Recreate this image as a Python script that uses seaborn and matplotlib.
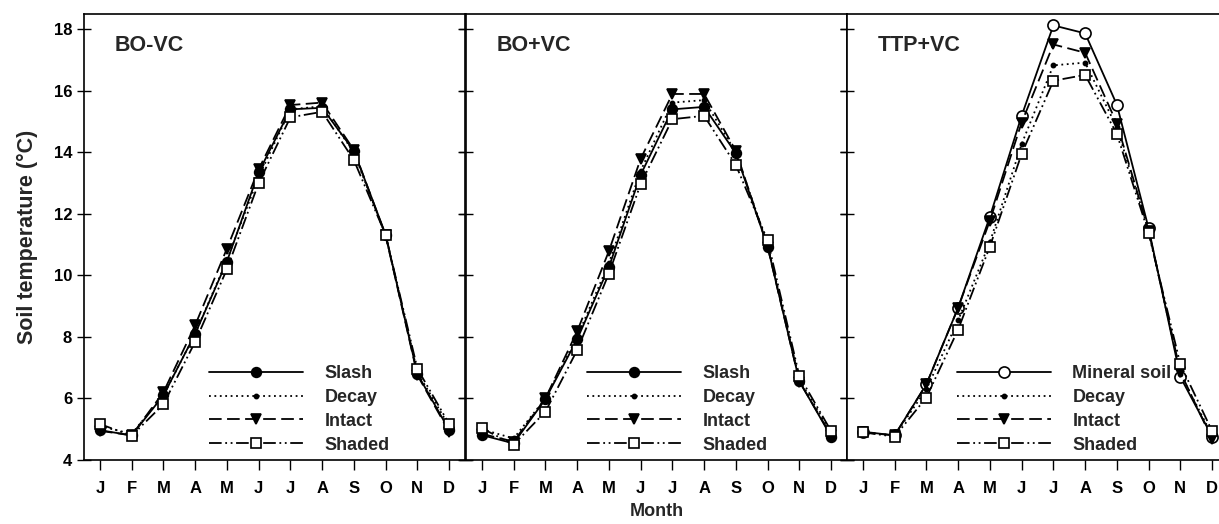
import numpy as np
import pandas as pd
import matplotlib
matplotlib.use("Agg")
import matplotlib.pyplot as plt
import seaborn as sns

months = ["J", "F", "M", "A", "M", "J", "J", "A", "S", "O", "N", "D"]
panels = ["BO-VC", "BO+VC", "TTP+VC"]

# BO-VC
bovc_slash = [4.97, 4.80, 6.10, 8.10, 10.45, 13.35, 15.40, 15.45, 14.05, 11.33, 6.80, 4.97]
bovc_decay = [5.10, 4.85, 6.10, 8.10, 10.50, 13.20, 15.40, 15.50, 14.00, 11.30, 6.85, 5.10]
bovc_intact = [4.95, 4.80, 6.20, 8.38, 10.87, 13.45, 15.54, 15.62, 14.08, 11.30, 6.76, 4.92]
bovc_shaded = [5.17, 4.79, 5.81, 7.84, 10.20, 13.00, 15.14, 15.32, 13.75, 11.32, 6.97, 5.17]

# BO+VC
bopvc_slash = [4.81, 4.54, 5.98, 7.92, 10.27, 13.27, 15.40, 15.48, 13.97, 10.94, 6.56, 4.76]
bopvc_decay = [5.00, 4.70, 6.00, 8.00, 10.40, 13.40, 15.62, 15.70, 14.00, 11.00, 6.60, 4.90]
bopvc_intact = [4.85, 4.60, 6.00, 8.18, 10.79, 13.79, 15.90, 15.90, 14.05, 10.93, 6.55, 4.80]
bopvc_shaded = [5.03, 4.50, 5.57, 7.57, 10.06, 12.97, 15.08, 15.19, 13.59, 11.14, 6.73, 4.94]

# TTP+VC
ttp_mineral = [4.92, 4.80, 6.46, 8.95, 11.91, 15.19, 18.13, 17.87, 15.55, 11.53, 6.70, 4.76]
ttp_decay = [4.90, 4.80, 6.30, 8.54, 11.08, 14.27, 16.83, 16.92, 14.81, 11.46, 6.80, 4.80]
ttp_intact = [4.90, 4.80, 6.46, 8.95, 11.78, 14.97, 17.51, 17.24, 14.94, 11.46, 6.86, 4.67]
ttp_shaded = [4.90, 4.76, 6.03, 8.24, 10.94, 13.95, 16.33, 16.52, 14.60, 11.37, 7.11, 4.94]

series = {
    "BO-VC": [("Slash", bovc_slash), ("Decay", bovc_decay), ("Intact", bovc_intact), ("Shaded", bovc_shaded)],
    "BO+VC": [("Slash", bopvc_slash), ("Decay", bopvc_decay), ("Intact", bopvc_intact), ("Shaded", bopvc_shaded)],
    "TTP+VC": [("Mineral soil", ttp_mineral), ("Decay", ttp_decay), ("Intact", ttp_intact), ("Shaded", ttp_shaded)],
}

styles = {
    "Slash": dict(ls="-", marker="o", mfc="black", ms=7),
    "Mineral soil": dict(ls="-", marker="o", mfc="white", ms=8),
    "Decay": dict(ls=(0, (1, 2)), marker="o", mfc="black", ms=3),
    "Intact": dict(ls=(0, (7, 3)), marker="v", mfc="black", ms=7),
    "Shaded": dict(ls=(0, (7, 2, 1, 2, 1, 2)), marker="s", mfc="white", ms=7),
}

sns.set_theme(style="ticks")
plt.rcParams["font.family"] = ["Liberation Sans", "DejaVu Sans"]
plt.rcParams["font.weight"] = "bold"

fig = plt.figure(figsize=(12.19, 5.24), dpi=100)
W, H = 1219, 524
x0s = [84, 466, 847]
pw = 381
top, bot = 14, 460
legend_x = [0.30, 0.29, 0.26]
axes = []
for i, name in enumerate(panels):
    ax = fig.add_axes([x0s[i] / W, (H - bot) / H, pw / W, (bot - top) / H])
    axes.append(ax)
    x = np.arange(len(months))
    for label, vals in series[name]:
        st = styles[label]
        df = pd.DataFrame({"m": x, "t": vals})
        sns.lineplot(data=df, x="m", y="t", ax=ax, color="black", linewidth=1.3,
                     linestyle=st["ls"], marker=st["marker"], markersize=st["ms"],
                     markerfacecolor=st["mfc"], markeredgecolor="black", markeredgewidth=1.2,
                     label=label)
    ax.set_xlim(-0.5, 11.5)
    ax.set_ylim(4, 18.5)
    ax.set_xticks(x)
    ax.set_xticklabels(months, fontsize=12, fontweight="bold")
    ax.set_yticks([4, 6, 8, 10, 12, 14, 16, 18])
    ax.tick_params(axis="x", direction="out", length=7, width=1, pad=8, colors="black")
    ax.tick_params(axis="y", direction="inout", length=10, width=1, left=True, right=True,
                   labelsize=12, colors="black")
    for sp in ax.spines.values():
        sp.set_color("black")
        sp.set_linewidth(1.2)
    ax.set_xlabel("")
    if i == 0:
        ax.set_ylabel("Soil temperature (\u00b0C)", fontsize=15.5, fontweight="bold")
        ax.yaxis.set_label_coords(-0.12, 0.5)
        for t in ax.get_yticklabels():
            t.set_fontweight("bold")
    else:
        ax.set_ylabel("")
        ax.tick_params(axis="y", labelleft=False)
    ax.text(0.08, 0.93, name, transform=ax.transAxes, fontsize=15.5, fontweight="bold",
            va="center", ha="left")
    leg = ax.legend(loc="lower left", bbox_to_anchor=(legend_x[i], -0.01), frameon=False,
                    handlelength=5.2, handletextpad=1.2, labelspacing=0.38, fontsize=13,
                    borderaxespad=0.2)
    for t in leg.get_texts():
        t.set_fontweight("bold")

fig.text((466 + pw / 2) / W, (H - 512) / H, "Month", ha="center", va="center",
         fontsize=13, fontweight="bold")

fig.savefig("out.png", dpi=100, facecolor="white")
